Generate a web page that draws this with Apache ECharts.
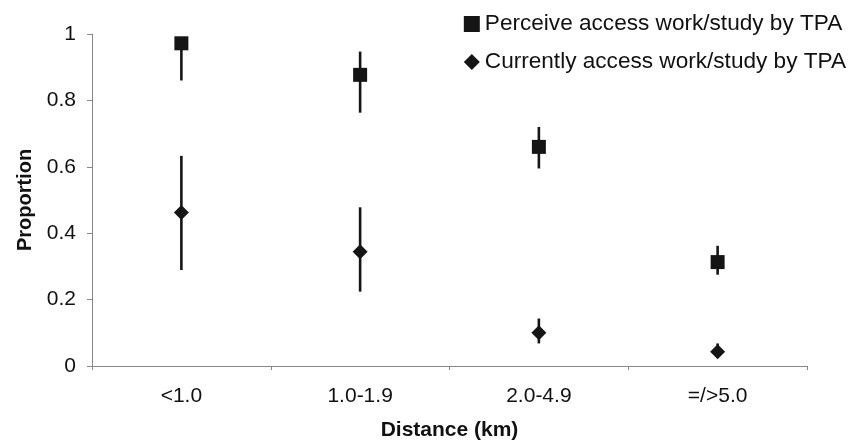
<!DOCTYPE html>
<html><head><meta charset="utf-8">
<script src="https://cdn.jsdelivr.net/npm/echarts@6/dist/echarts.min.js"></script>
<style>html,body{margin:0;padding:0;background:#fff}#c{width:852px;height:444px}</style>
</head><body><div id="c"></div>
<script>
const categories = ['<1.0', '1.0-1.9', '2.0-4.9', '=/>5.0'];
const perceive = [0.972, 0.877, 0.66, 0.313];
const perceiveLow = [0.86, 0.763, 0.595, 0.275];
const perceiveHigh = [0.99, 0.947, 0.72, 0.362];
const currently = [0.462, 0.344, 0.10, 0.043];
const currentlyLow = [0.289, 0.224, 0.068, 0.03];
const currentlyHigh = [0.633, 0.478, 0.143, 0.068];
const yTicks = [0, 0.2, 0.4, 0.6, 0.8, 1];
const seriesNames = ['Perceive access work/study by TPA', 'Currently access work/study by TPA'];

const font = 'Liberation Sans, Arial, sans-serif';
function errData(lo, hi) { return categories.map((c, i) => [i, lo[i], hi[i]]); }
function errRender(params, api) {
  const a = api.coord([api.value(0), api.value(1)]);
  const b = api.coord([api.value(0), api.value(2)]);
  return { type: 'line', shape: { x1: a[0], y1: a[1], x2: b[0], y2: b[1] },
    style: { stroke: '#151515', lineWidth: 2.6 } };
}
const chart = echarts.init(document.getElementById('c'), null, { renderer: 'canvas' });
chart.setOption({
  animation: false,
  backgroundColor: '#fff',
  grid: { left: 92, right: 45, top: 34, bottom: 78, containLabel: false, outerBoundsMode: 'none' },
  legend: {
    orient: 'vertical', right: 1, top: 7, itemGap: 14, itemWidth: 16, itemHeight: 16,
    data: [{ name: seriesNames[0], icon: 'rect' }, { name: seriesNames[1], icon: 'diamond' }],
    itemStyle: { opacity: 1, color: '#151515' },
    textStyle: { fontFamily: font, fontSize: 22.6, lineHeight: 24, color: '#111' }
  },
  xAxis: {
    type: 'category', data: categories, boundaryGap: true,
    name: 'Distance (km)', nameLocation: 'middle', nameGap: 54,
    nameTextStyle: { fontFamily: font, fontSize: 21, fontWeight: 'bold', color: '#111' },
    axisLine: { lineStyle: { color: '#888', width: 1 } },
    axisTick: { show: true, length: 4, lineStyle: { color: '#888' } },
    axisLabel: { fontFamily: font, fontSize: 21, color: '#111', margin: 20 }
  },
  yAxis: {
    type: 'value', min: 0, max: 1, interval: 0.2,
    name: 'Proportion', nameLocation: 'middle', nameGap: 57,
    nameTextStyle: { fontFamily: font, fontSize: 20, fontWeight: 'bold', color: '#111' },
    axisLine: { show: true, lineStyle: { color: '#888', width: 1 } },
    axisTick: { show: true, length: 5, lineStyle: { color: '#888' } },
    splitLine: { show: false },
    axisLabel: { fontFamily: font, fontSize: 21, color: '#111', margin: 16,
      formatter: v => { const t = yTicks.find(x => Math.abs(x - v) < 1e-9); return t === undefined ? '' : String(t); } }
  },
  series: [
    { type: 'custom', name: 'errP', renderItem: errRender, data: errData(perceiveLow, perceiveHigh), z: 1, silent: true },
    { type: 'custom', name: 'errC', renderItem: errRender, data: errData(currentlyLow, currentlyHigh), z: 1, silent: true },
    { type: 'scatter', name: seriesNames[0], data: perceive, symbol: 'rect', symbolSize: 14,
      itemStyle: { color: '#151515', opacity: 1 }, z: 3 },
    { type: 'scatter', name: seriesNames[1], data: currently, symbol: 'diamond', symbolSize: [15, 15],
      itemStyle: { color: '#151515', opacity: 1 }, z: 3 }
  ]
});
</script></body></html>
